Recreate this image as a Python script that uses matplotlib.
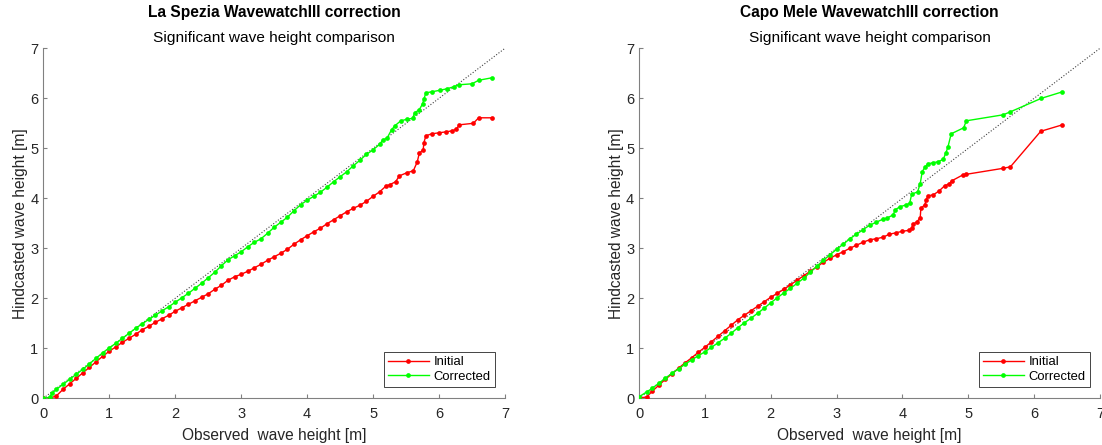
import matplotlib
matplotlib.use("Agg")
import matplotlib.pyplot as plt

plt.rcParams['font.family'] = ['Liberation Sans', 'DejaVu Sans']

# ---------------- data ----------------
titles = ["La Spezia WavewatchIII correction", "Capo Mele WavewatchIII correction"]
subtitle = "Significant wave height comparison"
xlabel = "Observed  wave height [m]"
ylabel = "Hindcasted wave height [m]"
series_names = ["Initial", "Corrected"]
ticks = [0, 1, 2, 3, 4, 5, 6, 7]
diag = [0, 7]

# La Spezia - Initial
ls_init_x = [0, 0.1, 0.2, 0.3, 0.4, 0.5, 0.6, 0.7, 0.8, 0.9, 1.0, 1.1, 1.2, 1.3, 1.4,
             1.5, 1.6, 1.7, 1.8, 1.9, 2.0, 2.1, 2.2, 2.3, 2.4, 2.5, 2.6, 2.7, 2.8, 2.9,
             3.0, 3.1, 3.2, 3.3, 3.4, 3.5, 3.6, 3.7, 3.8, 3.9, 4.0, 4.1, 4.2, 4.3, 4.4,
             4.5, 4.6, 4.7, 4.8, 4.9, 5.0, 5.1, 5.2, 5.25, 5.34, 5.40, 5.51, 5.61, 5.67,
             5.70, 5.76, 5.77, 5.80, 5.89, 6.00, 6.11, 6.20, 6.26, 6.31, 6.52, 6.60, 6.80]
ls_init_y = [0, 0.0, 0.05, 0.18, 0.29, 0.40, 0.51, 0.62, 0.73, 0.84, 0.94, 1.03, 1.12, 1.20, 1.28,
             1.37, 1.44, 1.52, 1.59, 1.66, 1.74, 1.81, 1.88, 1.95, 2.02, 2.09, 2.18, 2.26, 2.36, 2.43,
             2.48, 2.54, 2.61, 2.68, 2.76, 2.83, 2.90, 2.98, 3.08, 3.17, 3.25, 3.33, 3.40, 3.49, 3.57,
             3.65, 3.73, 3.80, 3.86, 3.94, 4.04, 4.13, 4.25, 4.27, 4.33, 4.45, 4.51, 4.55, 4.73,
             4.90, 4.97, 5.11, 5.25, 5.29, 5.31, 5.33, 5.35, 5.38, 5.47, 5.50, 5.61, 5.61]

# La Spezia - Corrected
ls_corr_x = [0, 0.1, 0.13, 0.2, 0.3, 0.4, 0.5, 0.6, 0.7, 0.8, 0.9, 1.0, 1.1, 1.2, 1.3,
             1.4, 1.5, 1.6, 1.7, 1.8, 1.9, 2.0, 2.1, 2.2, 2.3, 2.4, 2.5, 2.6, 2.7, 2.8,
             2.9, 3.0, 3.1, 3.2, 3.3, 3.4, 3.5, 3.6, 3.7, 3.8, 3.9, 4.0, 4.1, 4.2, 4.3,
             4.4, 4.5, 4.6, 4.7, 4.8, 4.9, 5.0, 5.1, 5.15, 5.21, 5.28, 5.33, 5.42, 5.51,
             5.60, 5.63, 5.70, 5.75, 5.77, 5.80, 5.89, 6.01, 6.12, 6.22, 6.30, 6.50, 6.60, 6.80]
ls_corr_y = [0, 0.02, 0.10, 0.18, 0.28, 0.38, 0.48, 0.58, 0.69, 0.80, 0.91, 1.01, 1.10, 1.20, 1.30,
             1.40, 1.49, 1.58, 1.66, 1.75, 1.83, 1.92, 2.01, 2.10, 2.20, 2.30, 2.41, 2.52, 2.65, 2.77,
             2.85, 2.93, 3.03, 3.12, 3.19, 3.30, 3.42, 3.52, 3.62, 3.75, 3.87, 3.96, 4.04, 4.12, 4.22,
             4.33, 4.43, 4.53, 4.65, 4.76, 4.88, 4.97, 5.08, 5.17, 5.20, 5.37, 5.45, 5.55, 5.58,
             5.60, 5.71, 5.77, 5.89, 5.98, 6.11, 6.13, 6.16, 6.19, 6.23, 6.27, 6.29, 6.36, 6.41]

# Capo Mele - Initial
cm_init_x = [0, 0.12, 0.2, 0.3, 0.4, 0.5, 0.6, 0.7, 0.8, 0.9, 1.0, 1.1, 1.2, 1.3, 1.4,
             1.5, 1.6, 1.7, 1.8, 1.9, 2.0, 2.1, 2.2, 2.3, 2.4, 2.5, 2.6, 2.7, 2.8, 2.9,
             3.0, 3.1, 3.2, 3.3, 3.4, 3.5, 3.6, 3.7, 3.8, 3.9, 4.0, 4.1, 4.14, 4.16, 4.22,
             4.27, 4.28, 4.34, 4.36, 4.39, 4.47, 4.56, 4.64, 4.71, 4.75, 4.92, 4.97, 5.53,
             5.64, 6.10, 6.43]
cm_init_y = [0, 0.03, 0.14, 0.26, 0.38, 0.49, 0.60, 0.71, 0.81, 0.92, 1.02, 1.13, 1.24, 1.35, 1.46,
             1.57, 1.66, 1.75, 1.84, 1.93, 2.02, 2.10, 2.18, 2.27, 2.36, 2.45, 2.54, 2.63, 2.72, 2.80,
             2.87, 2.93, 3.00, 3.06, 3.12, 3.17, 3.19, 3.22, 3.28, 3.31, 3.34, 3.36, 3.40, 3.48, 3.53,
             3.61, 3.80, 3.87, 3.97, 4.05, 4.07, 4.15, 4.25, 4.29, 4.35, 4.47, 4.48, 4.60,
             4.63, 5.34, 5.47]

# Capo Mele - Corrected
cm_corr_x = [0, 0.12, 0.2, 0.3, 0.4, 0.5, 0.6, 0.7, 0.8, 0.9, 1.0, 1.1, 1.2, 1.3, 1.4,
             1.5, 1.6, 1.7, 1.8, 1.9, 2.0, 2.1, 2.2, 2.3, 2.4, 2.5, 2.6, 2.7, 2.8, 2.9,
             3.0, 3.1, 3.2, 3.3, 3.4, 3.5, 3.6, 3.7, 3.76, 3.86, 3.89, 3.96, 4.06, 4.11,
             4.14, 4.23, 4.27, 4.30, 4.34, 4.39, 4.46, 4.54, 4.62, 4.66, 4.69, 4.74, 4.93,
             4.97, 5.53, 5.64, 6.11, 6.43]
cm_corr_y = [0.03, 0.13, 0.20, 0.30, 0.40, 0.50, 0.59, 0.68, 0.77, 0.85, 0.93, 1.02, 1.11, 1.20, 1.30,
             1.41, 1.51, 1.60, 1.70, 1.80, 1.91, 2.01, 2.11, 2.20, 2.30, 2.40, 2.52, 2.64, 2.76, 2.87,
             2.98, 3.08, 3.19, 3.28, 3.37, 3.46, 3.52, 3.58, 3.60, 3.67, 3.77, 3.83, 3.87, 3.90,
             4.08, 4.13, 4.29, 4.53, 4.62, 4.69, 4.71, 4.73, 4.78, 4.91, 5.02, 5.29, 5.41,
             5.55, 5.67, 5.73, 6.00, 6.13]

panels = [
    (titles[0], ls_init_x, ls_init_y, ls_corr_x, ls_corr_y),
    (titles[1], cm_init_x, cm_init_y, cm_corr_x, cm_corr_y),
]

# ---------------- figure ----------------
W, H = 1102, 445
fig = plt.figure(figsize=(W / 100, H / 100), dpi=100)

axes_px = [(43.3, 461.7), (639.0, 461.0)]   # left px, width px
ax_bottom_px, ax_height_px = 46.7, 350.0

axis_col = '#808080'
text_col = '#262626'

for (title, ix, iy, cx, cy), (lpx, wpx) in zip(panels, axes_px):
    ax = fig.add_axes([lpx / W, ax_bottom_px / H, wpx / W, ax_height_px / H])
    ax.plot(diag, diag, linestyle=':', color='#404040', linewidth=0.8, zorder=1)
    ax.plot(ix, iy, '-', color='#ff0000', linewidth=1.0, marker='o', markersize=3.4,
            markeredgewidth=0, label=series_names[0], zorder=3)
    ax.plot(cx, cy, '-', color='#00ff00', linewidth=1.0, marker='o', markersize=3.4,
            markeredgewidth=0, label=series_names[1], zorder=4)
    ax.set_xlim(0, 7)
    ax.set_ylim(0, 7)
    ax.set_xticks(ticks)
    ax.set_yticks(ticks)
    for s in ['top', 'right']:
        ax.spines[s].set_visible(False)
    for s in ['left', 'bottom']:
        ax.spines[s].set_color(axis_col)
        ax.spines[s].set_linewidth(0.8)
    ax.tick_params(axis='x', pad=6)
    ax.tick_params(direction='in', length=3, width=0.8, color=axis_col,
                   labelcolor=text_col, labelsize=10.5)
    ax.set_xlabel(xlabel, fontsize=11.2, color=text_col, labelpad=5)
    ax.set_ylabel(ylabel, fontsize=11.2, color=text_col, labelpad=1.5)
    cxp = (lpx + lpx + wpx) / 2
    fig.text(cxp / W, 1 - 12 / H, title, ha='center', va='center',
             fontsize=11.2, fontweight='bold', color='black')
    fig.text(cxp / W, 1 - 38 / H, subtitle, ha='center', va='center',
             fontsize=11.1, color='black')
    leg = ax.legend(loc='lower right', bbox_to_anchor=(0.978, 0.033), borderaxespad=0,
                    fontsize=9.4, frameon=True, fancybox=False, framealpha=1,
                    edgecolor='#262626', handlelength=3.1, numpoints=1,
                    borderpad=0.3, labelspacing=0.2, handletextpad=0.4)
    leg.get_frame().set_linewidth(0.6)

fig.savefig("out.png", dpi=100)
